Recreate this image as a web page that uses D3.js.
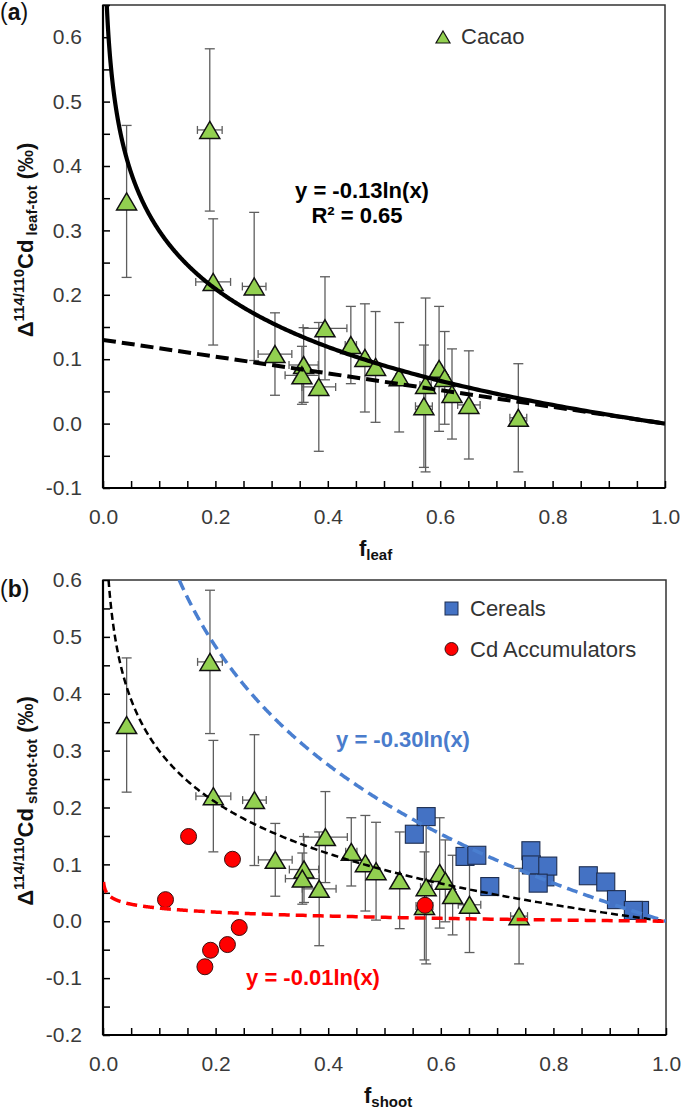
<!DOCTYPE html>
<html>
<head>
<meta charset="utf-8">
<script src="https://cdn.jsdelivr.net/npm/d3@7"></script>
<style>
  body { margin: 0; background: #fff; }
  text { font-family: "Liberation Sans", Arial, sans-serif; }
</style>
</head>
<body>
<svg id="chart" width="685" height="1112"></svg>
<script>
// cacao (same points in both panels)
const cacaoX = [0.042, 0.190, 0.196, 0.269, 0.306, 0.357, 0.354, 0.384, 0.395, 0.441, 0.466, 0.485, 0.527, 0.574, 0.571, 0.598, 0.608, 0.621, 0.651, 0.739]
const cacaoY = [0.345, 0.456, 0.220, 0.213, 0.108, 0.091, 0.075, 0.057, 0.148, 0.122, 0.102, 0.088, 0.072, 0.060, 0.027, 0.085, 0.071, 0.046, 0.029, 0.009]
const cacaoYErr = [0.118, 0.126, 0.098, 0.115, 0.064, 0.058, 0.045, 0.100, 0.080, 0.060, 0.084, 0.086, 0.085, 0.135, 0.095, 0.097, 0.072, 0.070, 0.084, 0.084]
const cacaoXErr = [0, 0.022, 0.031, 0.021, 0.030, 0.026, 0.030, 0.030, 0.039, 0.010, 0.006, 0.006, 0.006, 0.010, 0.015, 0.006, 0.006, 0.006, 0.020, 0.015]

// panel b only
const cerealX = [0.553, 0.574, 0.643, 0.664, 0.687, 0.760, 0.785, 0.761, 0.790, 0.773, 0.862, 0.893, 0.912, 0.953, 0.942]
const cerealY = [0.153, 0.184, 0.114, 0.116, 0.061, 0.124, 0.078, 0.099, 0.097, 0.067, 0.080, 0.069, 0.038, 0.019, 0.019]
const accX = [0.152, 0.230, 0.111, 0.242, 0.191, 0.221, 0.181, 0.572]
const accY = [0.149, 0.109, 0.038, -0.011, -0.051, -0.041, -0.080, 0.028]

// trend lines y = k ln(x)
const cacaoFit = -0.13
const cerealFit = -0.30
const accFit = -0.01
const mixLineX = [0, 1]
const mixLineY = [0.13, 0]

const xTicks = d3.range(0, 1.0001, 0.05)
const xLabels = [0, 0.2, 0.4, 0.6, 0.8, 1.0]

const svg = d3.select('#chart')
const green = '#92D050', blue = '#4472C4', red = '#FF0000'

function makePanel(dims, yDomain, yLabels) {
  let xScale = d3.scaleLinear().domain([0, 1]).range([dims.left, dims.right])
  let yScale = d3.scaleLinear().domain(yDomain).range([dims.bottom, dims.top])
  let g = svg.append('g')

  g.append('rect')
    .attr('x', dims.left).attr('y', dims.top)
    .attr('width', dims.right - dims.left).attr('height', dims.bottom - dims.top)
    .attr('fill', 'none').attr('stroke', '#333').attr('stroke-width', 1.5)

  let yTicks = d3.range(Math.round(yDomain[0] * 20), Math.round(yDomain[1] * 20) + 1).map(v => v / 20)
  let labelled = v => yLabels.some(l => Math.abs(l - v) < 1e-6)

  let xAxis = g.append('g')
    .attr('transform', `translate(0,${dims.bottom})`)
    .call(d3.axisBottom(xScale).tickValues(xTicks).tickSize(-7).tickPadding(21)
      .tickFormat(v => xLabels.some(l => Math.abs(l - v) < 1e-6) ? v.toFixed(1) : ''))
  let yAxis = g.append('g')
    .attr('transform', `translate(${dims.left},0)`)
    .call(d3.axisLeft(yScale).tickValues(yTicks).tickSize(-7).tickPadding(21)
      .tickFormat(v => labelled(v) ? v.toFixed(1) : ''))

  ;[xAxis, yAxis].forEach(a => {
    a.select('.domain').remove()
    a.selectAll('line').attr('stroke', '#000').attr('stroke-width', 1.5)
    a.selectAll('text').attr('fill', '#3a3a3a').style('font-size', '21px')
      .style('font-family', '"Liberation Sans", Arial, sans-serif')
  })
  g.append('line').attr('x1', dims.left).attr('x2', dims.right).attr('y1', dims.bottom).attr('y2', dims.bottom)
    .attr('stroke', '#000').attr('stroke-width', 2.2)
  g.append('line').attr('x1', dims.left).attr('x2', dims.left).attr('y1', dims.top).attr('y2', dims.bottom)
    .attr('stroke', '#000').attr('stroke-width', 2.2)

  let clipId = 'clip' + dims.top
  svg.append('clipPath').attr('id', clipId).append('rect')
    .attr('x', dims.left).attr('y', dims.top)
    .attr('width', dims.right - dims.left).attr('height', dims.bottom - dims.top)
  let plot = svg.append('g').attr('clip-path', `url(#${clipId})`)

  return {xScale, yScale, plot}
}

function triPath(cx, cy, w, h) {
  return `M${cx},${cy - h / 2}L${cx + w / 2},${cy + h / 2}L${cx - w / 2},${cy + h / 2}Z`
}

function drawCacao(p) {
  let idx = d3.range(cacaoX.length)
  let bars = p.plot.append('g').attr('stroke', '#5e5e5e').attr('stroke-width', 1.3)
  idx.forEach(i => {
    let x = p.xScale(cacaoX[i]), y = p.yScale(cacaoY[i])
    let y1 = p.yScale(cacaoY[i] + cacaoYErr[i]), y2 = p.yScale(cacaoY[i] - cacaoYErr[i])
    bars.append('line').attr('x1', x).attr('x2', x).attr('y1', y1).attr('y2', y2)
    bars.append('line').attr('x1', x - 5).attr('x2', x + 5).attr('y1', y1).attr('y2', y1)
    bars.append('line').attr('x1', x - 5).attr('x2', x + 5).attr('y1', y2).attr('y2', y2)
    if (cacaoXErr[i] > 0) {
      let xa = p.xScale(cacaoX[i] - cacaoXErr[i]), xb = p.xScale(cacaoX[i] + cacaoXErr[i])
      bars.append('line').attr('x1', xa).attr('x2', xb).attr('y1', y).attr('y2', y)
      bars.append('line').attr('x1', xa).attr('x2', xa).attr('y1', y - 4).attr('y2', y + 4)
      bars.append('line').attr('x1', xb).attr('x2', xb).attr('y1', y - 4).attr('y2', y + 4)
    }
  })
  p.plot.append('g').selectAll('path')
    .data(idx)
    .enter()
    .append('path')
    .attr('d', i => triPath(p.xScale(cacaoX[i]), p.yScale(cacaoY[i]), 20, 17))
    .attr('fill', green).attr('stroke', '#111').attr('stroke-width', 1.5)
}

function logCurve(p, k, yMax, style) {
  let x0 = Math.exp(yMax / k)
  let xs = d3.range(0, 1.0001, 0.002).map(t => x0 * Math.pow(1 / x0, t))
  let line = d3.line().x(x => p.xScale(x)).y(x => p.yScale(k * Math.log(x)))
  p.plot.append('path').attr('d', line(xs)).attr('fill', 'none')
    .attr('stroke', style.color).attr('stroke-width', style.width)
    .attr('stroke-dasharray', style.dash || null)
}

// ---------- panel (a)
let pa = makePanel({left: 103, right: 665, top: 5, bottom: 488}, [-0.1, 0.65], [-0.1, 0, 0.1, 0.2, 0.3, 0.4, 0.5, 0.6])
drawCacao(pa)
pa.plot.append('path')
  .attr('d', d3.line().x(d => pa.xScale(d[0])).y(d => pa.yScale(d[1]))(d3.zip(mixLineX, mixLineY)))
  .attr('stroke', '#000').attr('stroke-width', 4).attr('stroke-dasharray', '13,6').attr('fill', 'none')
logCurve(pa, cacaoFit, 0.66, {color: '#000', width: 4.2})

svg.append('path').attr('d', triPath(443, 37, 14, 12)).attr('fill', green).attr('stroke', '#111').attr('stroke-width', 1.2)
svg.append('text').attr('x', 461).attr('y', 44).attr('font-size', 22).attr('fill', '#333').text('Cacao')

svg.append('text').attr('x', 362).attr('y', 198).attr('text-anchor', 'middle')
  .attr('font-size', 22).attr('font-weight', 'bold').text('y = -0.13ln(x)')
let r2 = svg.append('text').attr('x', 357).attr('y', 223).attr('text-anchor', 'middle')
  .attr('font-size', 22).attr('font-weight', 'bold')
r2.append('tspan').text('R')
r2.append('tspan').text('²')
r2.append('tspan').text(' = 0.65')

// ---------- panel (b)
let pb = makePanel({left: 103, right: 666, top: 580, bottom: 1035}, [-0.2, 0.6], [-0.2, -0.1, 0, 0.1, 0.2, 0.3, 0.4, 0.5, 0.6])
drawCacao(pb)
pb.plot.append('g').selectAll('rect')
  .data(d3.range(cerealX.length))
  .enter()
  .append('rect')
  .attr('x', i => pb.xScale(cerealX[i]) - 9)
  .attr('y', i => pb.yScale(cerealY[i]) - 9)
  .attr('width', 18).attr('height', 18)
  .attr('fill', blue).attr('stroke', '#1e2e50').attr('stroke-width', 1.1)
pb.plot.append('g').selectAll('circle')
  .data(d3.range(accX.length))
  .enter()
  .append('circle')
  .attr('cx', i => pb.xScale(accX[i]))
  .attr('cy', i => pb.yScale(accY[i]))
  .attr('r', 8)
  .attr('fill', red).attr('stroke', '#3a1010').attr('stroke-width', 1)

logCurve(pb, cacaoFit, 0.6, {color: '#000', width: 2.5, dash: '7,4'})
logCurve(pb, cerealFit, 0.6, {color: '#4a7fd0', width: 3.5, dash: '11,6'})
logCurve(pb, accFit, 0.069, {color: red, width: 3.5, dash: '11,6'})

svg.append('rect').attr('x', 445).attr('y', 602).attr('width', 13).attr('height', 13)
  .attr('fill', blue).attr('stroke', '#1e2e50').attr('stroke-width', 1)
svg.append('text').attr('x', 470).attr('y', 616).attr('font-size', 22).attr('fill', '#333').text('Cereals')
svg.append('circle').attr('cx', 451.5).attr('cy', 649).attr('r', 6.5)
  .attr('fill', red).attr('stroke', '#3a1010').attr('stroke-width', 1)
svg.append('text').attr('x', 470).attr('y', 657).attr('font-size', 22).attr('fill', '#333').text('Cd Accumulators')

svg.append('text').attr('x', 403).attr('y', 747).attr('text-anchor', 'middle')
  .attr('font-size', 22).attr('font-weight', 'bold').attr('fill', '#4a7ccc').text('y = -0.30ln(x)')
svg.append('text').attr('x', 313).attr('y', 985).attr('text-anchor', 'middle')
  .attr('font-size', 22).attr('font-weight', 'bold').attr('fill', red).text('y = -0.01ln(x)')

// ---------- titles
function yTitle(cx, cy, sub) {
  let t = svg.append('text')
    .attr('transform', `translate(${cx},${cy}) rotate(-90)`)
    .attr('text-anchor', 'middle').attr('font-weight', 'bold').attr('font-size', 22).attr('fill', '#111')
  t.append('tspan').text('Δ')
  t.append('tspan').attr('font-size', 15).attr('dy', -9).text('114/110')
  t.append('tspan').attr('dy', 9).text('Cd')
  t.append('tspan').attr('font-size', 15).attr('dy', 4).text(' ' + sub)
  t.append('tspan').attr('dy', -4).text(' (‰)')
}
yTitle(33, 240, 'leaf-tot')
yTitle(33, 801, 'shoot-tot')

function xTitle(x, y, sub) {
  let t = svg.append('text').attr('x', x).attr('y', y)
    .attr('font-weight', 'bold').attr('font-size', 22).attr('fill', '#111')
  t.append('tspan').text('f')
  t.append('tspan').attr('font-size', 15).attr('dy', 4).text(sub)
}
xTitle(359, 556, 'leaf')
xTitle(364, 1103, 'shoot')

function panelTag(y, letter) {
  let t = svg.append('text').attr('x', 0).attr('y', y).attr('font-size', 23).attr('fill', '#111')
  t.append('tspan').text('(')
  t.append('tspan').attr('font-weight', 'bold').text(letter)
  t.append('tspan').text(')')
}
panelTag(20, 'a')
panelTag(597, 'b')
</script>
</body>
</html>
